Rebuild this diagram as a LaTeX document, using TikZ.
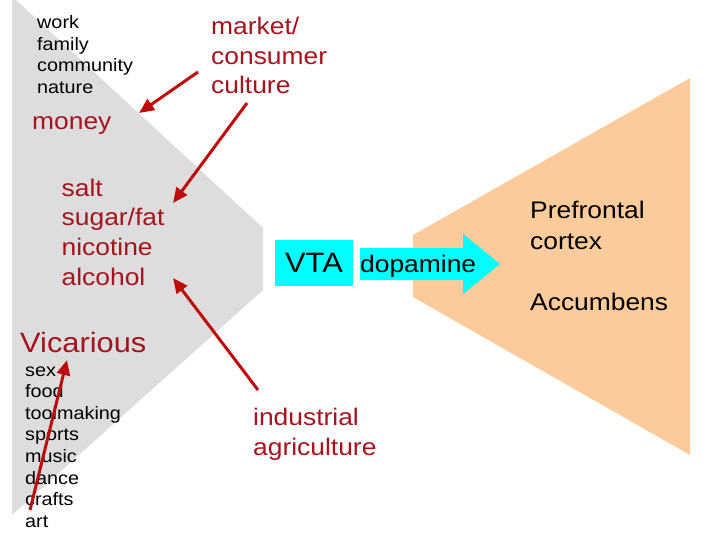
\documentclass[tikz,border=0pt]{standalone}
\usepackage{fontspec}
\setmainfont{Liberation Sans}[FakeStretch=1.1]
\usetikzlibrary{arrows.meta}
\definecolor{cuered}{RGB}{165,20,30}
\definecolor{pushred}{RGB}{190,12,12}
\definecolor{rewardgray}{RGB}{221,221,221}
\definecolor{cortexpeach}{RGB}{251,203,155}
\definecolor{vtacyan}{RGB}{0,255,255}

\begin{document}
\begin{tikzpicture}[
    x=1pt, y=-1pt,
    textblock/.style={inner sep=0pt, anchor=base west, align=left},
    blacklist/.style={textblock, font=\fontsize{18}{21.6}\selectfont},
    redlist/.style={textblock, text=cuered, font=\fontsize{24}{#1}\selectfont},
    redlist/.default=29.9,
    redword/.style={inner sep=0pt, anchor=base west, text=cuered, font=\fontsize{#1}{#1}\selectfont},
    push/.style={draw=pushred, line width=3pt, -{Triangle[length=15pt,width=13pt]}}
]
\useasboundingbox (0,0) rectangle (720,540);

% background areas
\fill[rewardgray] (12,0) -- (16,0) -- (263,228) -- (263,290) -- (12,515) -- cycle;
\fill[cortexpeach] (413,235) -- (690,78) -- (690,455) -- (413,297) -- cycle;
\fill[vtacyan] (360,248) -- (463,248) -- (463,234) -- (500,264) -- (463,294) -- (463,280) -- (360,280) -- cycle;

% texts (anchored at the baseline of the last line)
\node[blacklist] (natural) at (37,93.3) {work\\family\\community\\nature};
\node[redlist=29.2] (market) at (211,93.3) {market/\\consumer\\culture};
\node[redword=24] (money) at (32,129.5) {money};
\node[redlist] (drugs) at (61.5,285.7) {salt\\sugar/fat\\nicotine\\alcohol};
\node[redword=28] (vicarious) at (20,352) {Vicarious};
\node[blacklist] (activities) at (25,527.2) {sex\\food\\toolmaking\\sports\\music\\dance\\crafts\\art};
\node[redlist=30] (agri) at (253,455) {industrial\\agriculture};

\node[fill=vtacyan, minimum width=78pt, minimum height=46pt, inner sep=0pt,
      font=\fontsize{28}{34}\selectfont] (vta) at (314,263) {VTA};
\node[inner sep=0pt, anchor=base west, font=\fontsize{24}{29}\selectfont] (dopamine) at (360,272) {dopamine};
\node[textblock, font=\fontsize{24}{30.5}\selectfont] (cortex) at (530,310) {Prefrontal\\cortex\\[30.5pt]Accumbens};

% red arrows
\coordinate (markettail1) at (198,72);
\coordinate (markettail2) at (247,103);
\coordinate (agritail) at (258,390);
\coordinate (arttail) at (30,510);
\coordinate (moneytip) at (139,113);
\coordinate (sugartip) at (173,203);
\coordinate (alcoholtip) at (173,278);
\coordinate (vicarioustip) at (67,360);
\draw[push] (markettail1) -- (moneytip);
\draw[push] (markettail2) -- (sugartip);
\draw[push] (agritail) -- (alcoholtip);
\draw[push] (arttail) -- (vicarioustip);
\end{tikzpicture}
\end{document}
